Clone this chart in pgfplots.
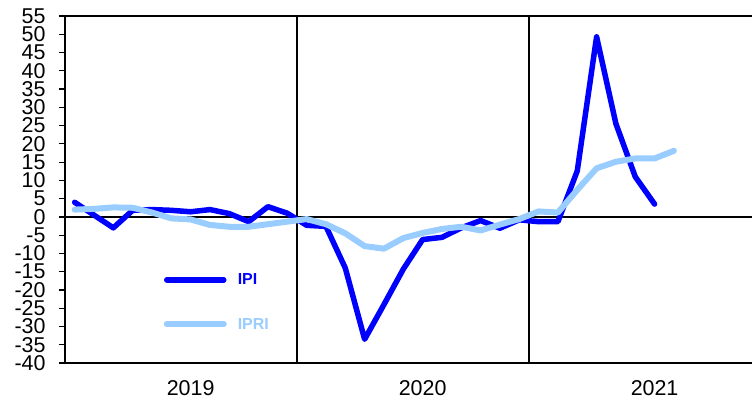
\documentclass[border=0pt]{standalone}
\usepackage{fontspec}
\setmainfont{Liberation Sans}
\usepackage{pgfplots}
\pgfplotsset{compat=1.18}
\usepackage{pgfplotstable}
\definecolor{ipi}{RGB}{0,0,255}
\definecolor{ipri}{RGB}{153,204,255}
\pgfplotstableread{
m v
0 4.0
1 0.5
2 -3.0
3 1.8
4 2.0
5 1.8
6 1.4
7 2.0
8 0.9
9 -1.3
10 2.8
11 1.0
12 -2.3
13 -2.6
14 -14.0
15 -33.5
16 -24.0
17 -14.3
18 -6.2
19 -5.6
20 -3.0
21 -1.0
22 -3.1
23 -0.8
24 -1.3
25 -1.3
26 12.6
27 49.3
28 25.5
29 11.0
30 3.5
}\ipitable
\pgfplotstableread{
m v
0 2.0
1 2.2
2 2.6
3 2.5
4 1.2
5 -0.4
6 -0.7
7 -2.2
8 -2.7
9 -2.7
10 -2.0
11 -1.3
12 -0.6
13 -2.0
14 -4.5
15 -8.0
16 -8.7
17 -5.8
18 -4.4
19 -3.3
20 -2.7
21 -3.7
22 -2.1
23 -0.6
24 1.5
25 1.2
26 7.4
27 13.3
28 15.1
29 16.0
30 16.0
31 18.1
}\ipritable
\begin{document}
\begin{tikzpicture}[x=1bp,y=1bp]
\useasboundingbox (-65,-41) rectangle (687,363);
\begin{axis}[
  at={(0,0)}, anchor=south west,
  scale only axis, width=687bp, height=347bp,
  xmin=-0.5, xmax=35.04, ymin=-40, ymax=55,
  axis x line*=box, axis y line*=left,
  x axis line style={-}, y axis line style={-},
  axis line style={line width=1.5bp, black},
  ytick={-40,-35,...,55},
  ytick pos=left, tick align=outside,
  major tick length=6bp,
  tick style={line width=1.2bp, black},
  xtick={-0.5,11.5,23.5}, xticklabels={},
  x tick style={draw=none},
  xmajorgrids, major x grid style={black, line width=1.5bp},
  extra x ticks={6,18,30}, extra x tick labels={2019,2020,2021},
  extra x tick style={xmajorgrids=false, major tick length=0pt,
    xticklabel style={yshift=-14bp}},
  /pgf/number format/assume math mode=true,
  ticklabel style={font=\fontsize{21.5}{21.5}\selectfont},
  yticklabel style={xshift=-10bp},
  legend style={draw=none, fill=none, at={(axis description cs:0.1435,0.258)}, anchor=north west,
    inner sep=0pt, row sep=32bp, column sep=11bp,
    font=\bfseries\fontsize{16}{16}\selectfont, nodes={inner sep=0pt}},
  legend cell align=left,
  legend image code/.code={\draw[#1, line cap=round] (0bp,0bp) -- (57bp,0bp);},
]
\draw[line width=1.5bp, black] (axis cs:-0.5,0) -- (axis cs:35.04,0);
\addplot[ipi, line width=5.5bp, line join=round, line cap=round] table[x=m,y=v] {\ipitable};
\addlegendentry{\textcolor{ipi}{IPI}}
\addplot[ipri, line width=6bp, line join=round, line cap=round] table[x=m,y=v] {\ipritable};
\addlegendentry{\textcolor{ipri}{IPRI}}
\end{axis}
\end{tikzpicture}
\end{document}
